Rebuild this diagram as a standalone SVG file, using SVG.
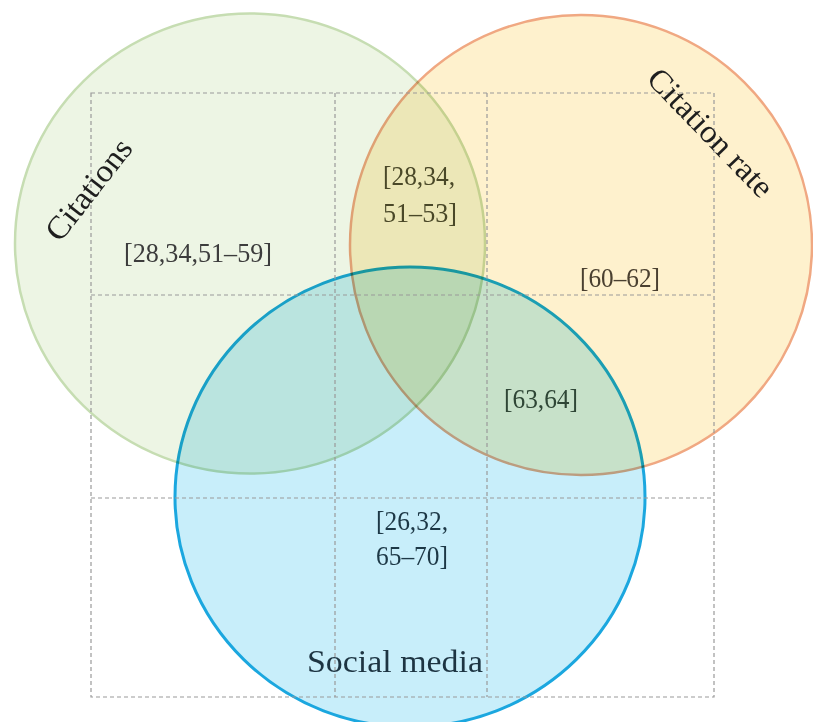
<svg xmlns="http://www.w3.org/2000/svg" width="813" height="722" viewBox="0 0 813 722">
<style>
.c{mix-blend-mode:multiply}
.grid{fill:none;stroke:#9a9a9a;stroke-width:1.2;stroke-dasharray:4 3}
.num{font-family:"Liberation Serif",serif;font-size:27px}
.lbl{font-family:"Liberation Serif",serif;font-size:32px}
</style>
<rect width="813" height="722" fill="#ffffff"/>
<g id="circles">
<g id="citations"><ellipse class="c" cx="250" cy="243.5" rx="235" ry="230" fill="#edf5e4" stroke="#c6ddb2" stroke-width="2.5"/></g>
<g id="citation-rate"><ellipse class="c" cx="581" cy="245" rx="231" ry="230" fill="#fef1cd" stroke="#f0a882" stroke-width="2.5"/></g>
<g id="social-media"><ellipse class="c" cx="410" cy="497" rx="235" ry="230" fill="#c8eefa" stroke="#1ba7df" stroke-width="3"/></g>
</g>
<g id="connectors">
<rect class="grid" x="91" y="93" width="623" height="604"/>
<line class="grid" x1="335" y1="93" x2="335" y2="697"/>
<line class="grid" x1="487" y1="93" x2="487" y2="697"/>
<line class="grid" x1="91" y1="295" x2="714" y2="295"/>
<line class="grid" x1="91" y1="498" x2="714" y2="498"/>
</g>
<g id="labels">
<text class="lbl" fill="#1e1e1e" text-anchor="middle" textLength="120" lengthAdjust="spacingAndGlyphs" transform="translate(97,196) rotate(-52)">Citations</text>
<text class="lbl" fill="#1e1e1e" text-anchor="middle" textLength="166" lengthAdjust="spacingAndGlyphs" transform="translate(703,140) rotate(46)">Citation rate</text>
<text class="lbl" fill="#1d3442" x="395" y="672" text-anchor="middle" textLength="176" lengthAdjust="spacingAndGlyphs">Social media</text>
<text class="num" fill="#3c3c3c" x="198" y="262" text-anchor="middle" textLength="148" lengthAdjust="spacingAndGlyphs">[28,34,51–59]</text>
<text class="num" fill="#4a4828" x="383" y="185" textLength="72" lengthAdjust="spacingAndGlyphs">[28,34,</text>
<text class="num" fill="#4a4828" x="383" y="222" textLength="74" lengthAdjust="spacingAndGlyphs">51–53]</text>
<text class="num" fill="#4a4030" x="620" y="287" text-anchor="middle" textLength="80" lengthAdjust="spacingAndGlyphs">[60–62]</text>
<text class="num" fill="#2f4636" x="541" y="408" text-anchor="middle" textLength="74" lengthAdjust="spacingAndGlyphs">[63,64]</text>
<text class="num" fill="#1d3846" x="376" y="530" textLength="72" lengthAdjust="spacingAndGlyphs">[26,32,</text>
<text class="num" fill="#1d3846" x="376" y="565" textLength="72" lengthAdjust="spacingAndGlyphs">65–70]</text>
</g>
</svg>
